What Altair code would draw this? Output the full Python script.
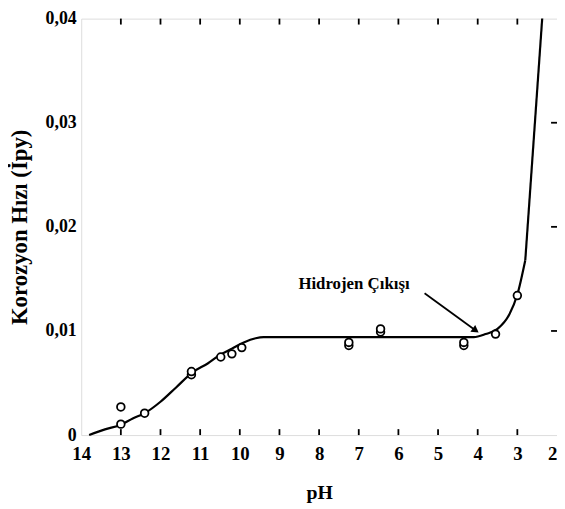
import altair as alt
import pandas as pd

# Fitted curve (pH, corrosion rate)
curve_ph = [13.8, 13.4, 13.0, 12.7, 12.4, 12.0, 11.6, 11.2, 10.8, 10.5, 10.2, 9.9, 9.6, 9.4, 8.0, 6.0, 4.1, 3.8, 3.5, 3.2, 3.0, 2.8]
curve_y = [0.0, 0.00055, 0.0010, 0.0016, 0.0021, 0.0032, 0.0046, 0.0060, 0.0069, 0.0077, 0.0083, 0.0089, 0.0093, 0.0094, 0.0094, 0.0094, 0.0094, 0.0097, 0.0102, 0.0116, 0.0135, 0.0168]
# Steep straight segment at low pH
steep_ph = [2.8, 2.37]
steep_y = [0.0168, 0.0402]

# Measured points
pts_ph = [13.0, 13.0, 12.4, 11.22, 11.22, 10.48, 10.2, 9.95, 7.25, 7.25, 6.45, 6.45, 4.35, 4.35, 3.55, 3.0]
pts_y = [0.0027, 0.00105, 0.0021, 0.0058, 0.0061, 0.0075, 0.0078, 0.0084, 0.0086, 0.0089, 0.0099, 0.0102, 0.0086, 0.0089, 0.0097, 0.0134]

# Axis ticks
x_ticks = [14, 13, 12, 11, 10, 9, 8, 7, 6, 5, 4, 3, 2]
inner_x_ticks = [13, 12, 11, 10, 9, 8, 7, 6, 5, 4, 3]
y_ticks = [0, 0.01, 0.02, 0.03, 0.04]
inner_y_ticks = [0.01, 0.02, 0.03]

# Annotation
note_text = ["Hidrojen Çıkışı"]
note_ph = [7.12]
note_y = [0.0145]
arrow_ph = [5.34, 4.05]
arrow_y = [0.01362, 0.01005]

W, H = 481, 421
FONT = "Liberation Serif"

xscale = alt.Scale(domain=[2, 14], reverse=True, nice=False, zero=False)
yscale = alt.Scale(domain=[0, 0.04], nice=False, zero=True)

curve_df = pd.DataFrame({"ph": curve_ph, "y": curve_y})
steep_df = pd.DataFrame({"ph": steep_ph, "y": steep_y})
pts_df = pd.DataFrame({"ph": pts_ph, "y": pts_y})
xt_df = pd.DataFrame({"ph": inner_x_ticks})
yt_df = pd.DataFrame({"y": inner_y_ticks})
note_df = pd.DataFrame({"ph": note_ph, "y": note_y, "t": note_text})
arrow_df = pd.DataFrame({"ph": arrow_ph, "y": arrow_y, "o": [0, 1]})
head_df = pd.DataFrame({"ph": [arrow_ph[1]], "y": [arrow_y[1]]})

x_enc = alt.X("ph:Q", scale=xscale, title="pH",
              axis=alt.Axis(values=x_ticks, ticks=False, domain=False, grid=False,
                            labelFont=FONT, labelFontWeight="bold", labelFontSize=19,
                            labelColor="black", labelPadding=10, labelFlush=False,
                            labelAlign=alt.condition("datum.value == 2", alt.value("right"), alt.value("center")),
                            titleFont=FONT, titleFontWeight="bold", titleFontSize=20,
                            titleColor="black", titleY=48))
y_enc = alt.Y("y:Q", scale=yscale, title="Korozyon Hızı (İpy)",
              axis=alt.Axis(values=y_ticks, ticks=False, domain=False, grid=False,
                            labelExpr="datum.value == 0 ? '0' : replace(format(datum.value, '.2f'), '.', ',')",
                            labelFont=FONT, labelFontWeight="bold", labelFontSize=18,
                            labelColor="black", labelPadding=5, labelFlush=False,
                            titleFont=FONT, titleFontWeight="bold", titleFontSize=23,
                            titleColor="black", titleX=-50, titleY=H / 2))

curve = alt.Chart(curve_df).mark_line(color="black", strokeWidth=2.2, interpolate="monotone").encode(
    x=x_enc, y=y_enc)
steep = alt.Chart(steep_df).mark_line(color="black", strokeWidth=2.2, clip=True).encode(
    x=alt.X("ph:Q", scale=xscale), y=alt.Y("y:Q", scale=yscale))

points = alt.Chart(pts_df).mark_point(shape="circle", filled=False, color="black", fill="white",
                                      fillOpacity=1, size=60, strokeWidth=1.8, opacity=1).encode(
    x=alt.X("ph:Q", scale=xscale), y=alt.Y("y:Q", scale=yscale))

bottom_ticks = alt.Chart(xt_df).mark_rule(color="black", strokeWidth=1.8).encode(
    x=alt.X("ph:Q", scale=xscale), y=alt.value(H), y2=alt.value(H - 6))
top_ticks = alt.Chart(xt_df).mark_rule(color="black", strokeWidth=1.8).encode(
    x=alt.X("ph:Q", scale=xscale), y=alt.value(0), y2=alt.value(6))
right_ticks = alt.Chart(yt_df).mark_rule(color="black", strokeWidth=1.8).encode(
    y=alt.Y("y:Q", scale=yscale), x=alt.value(W), x2=alt.value(W - 6))

note = alt.Chart(note_df).mark_text(font=FONT, fontWeight="bold", fontSize=17, color="black",
                                    align="center", baseline="middle").encode(
    x=alt.X("ph:Q", scale=xscale), y=alt.Y("y:Q", scale=yscale), text="t:N")

arrow = alt.Chart(arrow_df).mark_line(color="black", strokeWidth=1.8).encode(
    x=alt.X("ph:Q", scale=xscale), y=alt.Y("y:Q", scale=yscale), order="o:Q")
head = alt.Chart(head_df).mark_point(shape="triangle-right", filled=True, color="black",
                                     size=70, angle=36, opacity=1).encode(
    x=alt.X("ph:Q", scale=xscale), y=alt.Y("y:Q", scale=yscale))

chart = alt.layer(curve, steep, points, bottom_ticks, top_ticks, right_ticks, arrow, head, note).properties(
    width=W, height=H,
    autosize=alt.AutoSizeParams(type="none"),
    padding={"left": 74, "top": 8, "right": 0, "bottom": 72},
).configure_view(stroke="black", strokeWidth=2).configure(background="white")

chart.save("out.html", embed_options={"renderer": "svg", "actions": False})
